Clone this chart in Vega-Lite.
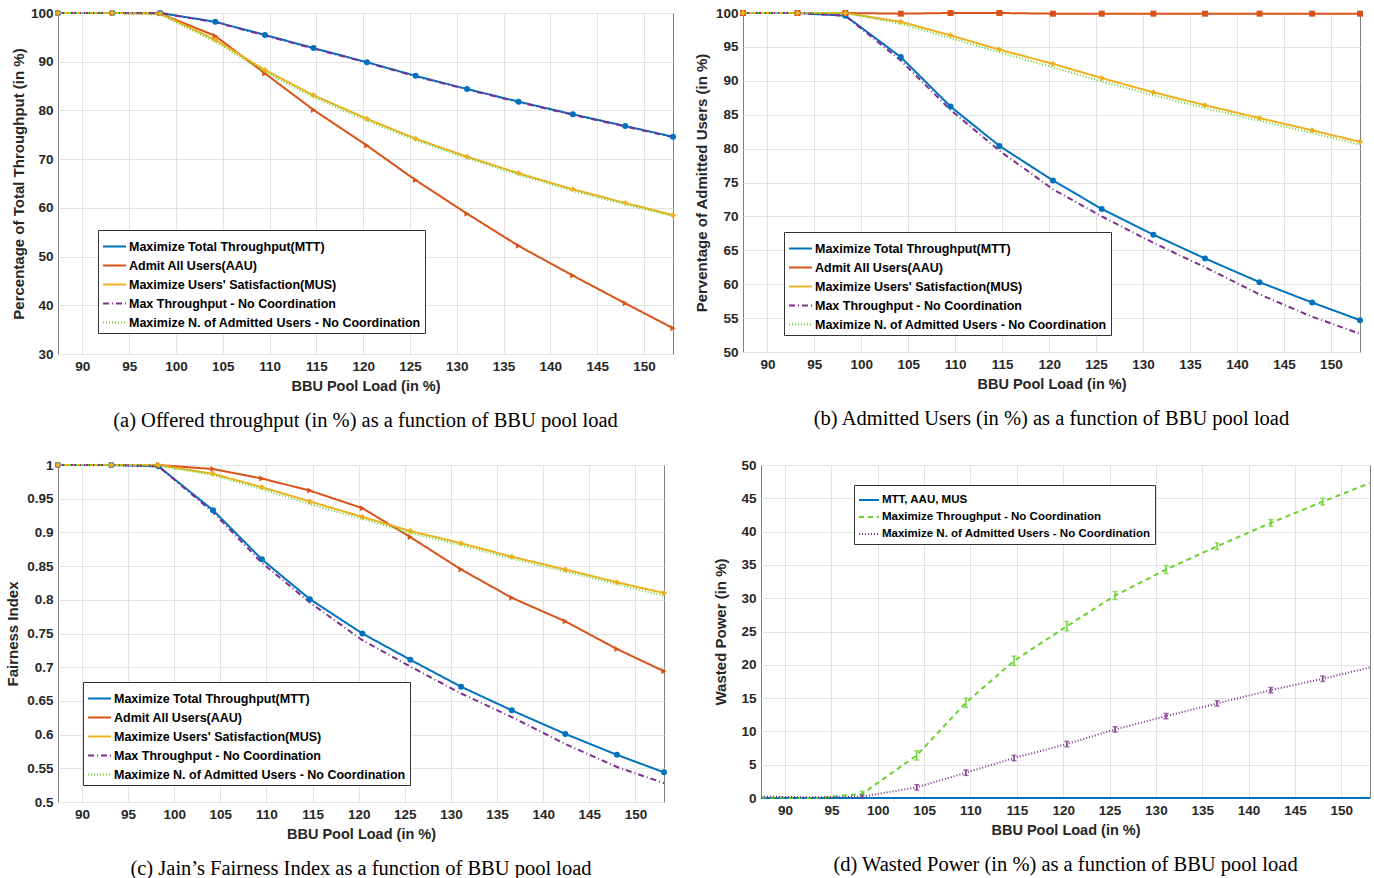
{
  "$schema": "https://vega.github.io/schema/vega-lite/v6.json",
  "background": "white",
  "padding": 5,
  "datasets": {
    "a": [
      {"x":87.4,"s":"MTT","y":100},{"x":93.2,"s":"MTT","y":100},{"x":98.3,"s":"MTT","y":100},{"x":104.2,"s":"MTT","y":98.2},{"x":109.5,"s":"MTT","y":95.5},{"x":114.7,"s":"MTT","y":92.8},{"x":120.4,"s":"MTT","y":89.9},{"x":125.6,"s":"MTT","y":87.1},{"x":131.1,"s":"MTT","y":84.4},{"x":136.6,"s":"MTT","y":81.8},{"x":142.4,"s":"MTT","y":79.2},{"x":148.0,"s":"MTT","y":76.8},{"x":153.1,"s":"MTT","y":74.6},
      {"x":87.4,"s":"AAU","y":100},{"x":93.2,"s":"AAU","y":100},{"x":98.3,"s":"AAU","y":99.9},{"x":104.2,"s":"AAU","y":95.3},{"x":109.5,"s":"AAU","y":87.6},{"x":114.7,"s":"AAU","y":80.1},{"x":120.4,"s":"AAU","y":72.8},{"x":125.6,"s":"AAU","y":65.7},{"x":131.1,"s":"AAU","y":58.8},{"x":136.6,"s":"AAU","y":52.2},{"x":142.4,"s":"AAU","y":46.1},{"x":148.0,"s":"AAU","y":40.4},{"x":153.1,"s":"AAU","y":35.3},
      {"x":87.4,"s":"MUS","y":100},{"x":93.2,"s":"MUS","y":100},{"x":98.3,"s":"MUS","y":99.9},{"x":104.2,"s":"MUS","y":94.5},{"x":109.5,"s":"MUS","y":88.3},{"x":114.7,"s":"MUS","y":83.1},{"x":120.4,"s":"MUS","y":78.3},{"x":125.6,"s":"MUS","y":74.2},{"x":131.1,"s":"MUS","y":70.5},{"x":136.6,"s":"MUS","y":67.1},{"x":142.4,"s":"MUS","y":63.8},{"x":148.0,"s":"MUS","y":61.0},{"x":153.1,"s":"MUS","y":58.5},
      {"x":87.4,"s":"MTNC","y":100},{"x":93.2,"s":"MTNC","y":100},{"x":98.3,"s":"MTNC","y":100},{"x":104.2,"s":"MTNC","y":98.1},{"x":109.5,"s":"MTNC","y":95.4},{"x":114.7,"s":"MTNC","y":92.7},{"x":120.4,"s":"MTNC","y":89.8},{"x":125.6,"s":"MTNC","y":87.0},{"x":131.1,"s":"MTNC","y":84.3},{"x":136.6,"s":"MTNC","y":81.7},{"x":142.4,"s":"MTNC","y":79.1},{"x":148.0,"s":"MTNC","y":76.7},{"x":153.1,"s":"MTNC","y":74.5},
      {"x":87.4,"s":"MANC","y":100},{"x":93.2,"s":"MANC","y":100},{"x":98.3,"s":"MANC","y":99.7},{"x":104.2,"s":"MANC","y":94.1},{"x":109.5,"s":"MANC","y":87.9},{"x":114.7,"s":"MANC","y":82.7},{"x":120.4,"s":"MANC","y":77.9},{"x":125.6,"s":"MANC","y":73.9},{"x":131.1,"s":"MANC","y":70.2},{"x":136.6,"s":"MANC","y":66.8},{"x":142.4,"s":"MANC","y":63.5},{"x":148.0,"s":"MANC","y":60.7},{"x":153.1,"s":"MANC","y":58.3}
    ],
    "b": [
      {"x":87.4,"s":"MTT","y":100},{"x":93.2,"s":"MTT","y":100},{"x":98.3,"s":"MTT","y":99.6},{"x":104.2,"s":"MTT","y":93.5},{"x":109.5,"s":"MTT","y":86.2},{"x":114.7,"s":"MTT","y":80.4},{"x":120.4,"s":"MTT","y":75.3},{"x":125.6,"s":"MTT","y":71.1},{"x":131.1,"s":"MTT","y":67.3},{"x":136.6,"s":"MTT","y":63.8},{"x":142.4,"s":"MTT","y":60.3},{"x":148.0,"s":"MTT","y":57.3},{"x":153.1,"s":"MTT","y":54.7},
      {"x":87.4,"s":"AAU","y":100},{"x":93.2,"s":"AAU","y":100},{"x":98.3,"s":"AAU","y":100},{"x":104.2,"s":"AAU","y":99.9},{"x":109.5,"s":"AAU","y":100},{"x":114.7,"s":"AAU","y":100},{"x":120.4,"s":"AAU","y":99.9},{"x":125.6,"s":"AAU","y":99.9},{"x":131.1,"s":"AAU","y":99.9},{"x":136.6,"s":"AAU","y":99.9},{"x":142.4,"s":"AAU","y":99.9},{"x":148.0,"s":"AAU","y":99.9},{"x":153.1,"s":"AAU","y":99.9},
      {"x":87.4,"s":"MUS","y":100},{"x":93.2,"s":"MUS","y":100},{"x":98.3,"s":"MUS","y":100},{"x":104.2,"s":"MUS","y":98.7},{"x":109.5,"s":"MUS","y":96.7},{"x":114.7,"s":"MUS","y":94.6},{"x":120.4,"s":"MUS","y":92.5},{"x":125.6,"s":"MUS","y":90.4},{"x":131.1,"s":"MUS","y":88.3},{"x":136.6,"s":"MUS","y":86.4},{"x":142.4,"s":"MUS","y":84.5},{"x":148.0,"s":"MUS","y":82.7},{"x":153.1,"s":"MUS","y":81.0},
      {"x":87.4,"s":"MTNC","y":100},{"x":93.2,"s":"MTNC","y":100},{"x":98.3,"s":"MTNC","y":99.6},{"x":104.2,"s":"MTNC","y":93.0},{"x":109.5,"s":"MTNC","y":85.7},{"x":114.7,"s":"MTNC","y":79.7},{"x":120.4,"s":"MTNC","y":74.0},{"x":125.6,"s":"MTNC","y":70.0},{"x":131.1,"s":"MTNC","y":66.1},{"x":136.6,"s":"MTNC","y":62.5},{"x":142.4,"s":"MTNC","y":58.5},{"x":148.0,"s":"MTNC","y":55.2},{"x":153.1,"s":"MTNC","y":52.7},
      {"x":87.4,"s":"MANC","y":100},{"x":93.2,"s":"MANC","y":100},{"x":98.3,"s":"MANC","y":100},{"x":104.2,"s":"MANC","y":98.4},{"x":109.5,"s":"MANC","y":96.3},{"x":114.7,"s":"MANC","y":94.2},{"x":120.4,"s":"MANC","y":92.0},{"x":125.6,"s":"MANC","y":89.9},{"x":131.1,"s":"MANC","y":87.9},{"x":136.6,"s":"MANC","y":86.0},{"x":142.4,"s":"MANC","y":84.1},{"x":148.0,"s":"MANC","y":82.3},{"x":153.1,"s":"MANC","y":80.6}
    ],
    "c": [
      {"x":87.4,"s":"MTT","y":1},{"x":93.2,"s":"MTT","y":1},{"x":98.3,"s":"MTT","y":0.998},{"x":104.2,"s":"MTT","y":0.933},{"x":109.5,"s":"MTT","y":0.86},{"x":114.7,"s":"MTT","y":0.801},{"x":120.4,"s":"MTT","y":0.75},{"x":125.6,"s":"MTT","y":0.711},{"x":131.1,"s":"MTT","y":0.671},{"x":136.6,"s":"MTT","y":0.636},{"x":142.4,"s":"MTT","y":0.601},{"x":148.0,"s":"MTT","y":0.57},{"x":153.1,"s":"MTT","y":0.544},
      {"x":87.4,"s":"AAU","y":1},{"x":93.2,"s":"AAU","y":1},{"x":98.3,"s":"AAU","y":1},{"x":104.2,"s":"AAU","y":0.994},{"x":109.5,"s":"AAU","y":0.98},{"x":114.7,"s":"AAU","y":0.962},{"x":120.4,"s":"AAU","y":0.936},{"x":125.6,"s":"AAU","y":0.893},{"x":131.1,"s":"AAU","y":0.845},{"x":136.6,"s":"AAU","y":0.803},{"x":142.4,"s":"AAU","y":0.768},{"x":148.0,"s":"AAU","y":0.727},{"x":153.1,"s":"AAU","y":0.694},
      {"x":87.4,"s":"MUS","y":1},{"x":93.2,"s":"MUS","y":1},{"x":98.3,"s":"MUS","y":1},{"x":104.2,"s":"MUS","y":0.987},{"x":109.5,"s":"MUS","y":0.967},{"x":114.7,"s":"MUS","y":0.946},{"x":120.4,"s":"MUS","y":0.923},{"x":125.6,"s":"MUS","y":0.902},{"x":131.1,"s":"MUS","y":0.884},{"x":136.6,"s":"MUS","y":0.864},{"x":142.4,"s":"MUS","y":0.845},{"x":148.0,"s":"MUS","y":0.826},{"x":153.1,"s":"MUS","y":0.81},
      {"x":87.4,"s":"MTNC","y":1},{"x":93.2,"s":"MTNC","y":1},{"x":98.3,"s":"MTNC","y":0.998},{"x":104.2,"s":"MTNC","y":0.93},{"x":109.5,"s":"MTNC","y":0.855},{"x":114.7,"s":"MTNC","y":0.796},{"x":120.4,"s":"MTNC","y":0.74},{"x":125.6,"s":"MTNC","y":0.701},{"x":131.1,"s":"MTNC","y":0.661},{"x":136.6,"s":"MTNC","y":0.626},{"x":142.4,"s":"MTNC","y":0.586},{"x":148.0,"s":"MTNC","y":0.552},{"x":153.1,"s":"MTNC","y":0.528},
      {"x":87.4,"s":"MANC","y":1},{"x":93.2,"s":"MANC","y":1},{"x":98.3,"s":"MANC","y":0.999},{"x":104.2,"s":"MANC","y":0.985},{"x":109.5,"s":"MANC","y":0.964},{"x":114.7,"s":"MANC","y":0.942},{"x":120.4,"s":"MANC","y":0.92},{"x":125.6,"s":"MANC","y":0.899},{"x":131.1,"s":"MANC","y":0.881},{"x":136.6,"s":"MANC","y":0.861},{"x":142.4,"s":"MANC","y":0.842},{"x":148.0,"s":"MANC","y":0.823},{"x":153.1,"s":"MANC","y":0.806}
    ],
    "d": [
      {"x":87.4,"s":"D0","y":0},{"x":93.2,"s":"D0","y":0},{"x":98.3,"s":"D0","y":0},{"x":104.2,"s":"D0","y":0},{"x":109.5,"s":"D0","y":0},{"x":114.7,"s":"D0","y":0},{"x":120.4,"s":"D0","y":0},{"x":125.6,"s":"D0","y":0},{"x":131.1,"s":"D0","y":0},{"x":136.6,"s":"D0","y":0},{"x":142.4,"s":"D0","y":0},{"x":148.0,"s":"D0","y":0},{"x":153.1,"s":"D0","y":0},
      {"x":87.4,"s":"D1","y":0.1},{"x":93.2,"s":"D1","y":0},{"x":98.3,"s":"D1","y":0.6},{"x":104.2,"s":"D1","y":6.4},{"x":109.5,"s":"D1","y":14.3},{"x":114.7,"s":"D1","y":20.6},{"x":120.4,"s":"D1","y":25.8},{"x":125.6,"s":"D1","y":30.4},{"x":131.1,"s":"D1","y":34.3},{"x":136.6,"s":"D1","y":37.8},{"x":142.4,"s":"D1","y":41.3},{"x":148.0,"s":"D1","y":44.5},{"x":153.1,"s":"D1","y":47.3},
      {"x":87.4,"s":"D2","y":0.2},{"x":93.2,"s":"D2","y":0.1},{"x":98.3,"s":"D2","y":0.2},{"x":104.2,"s":"D2","y":1.6},{"x":109.5,"s":"D2","y":3.8},{"x":114.7,"s":"D2","y":6.0},{"x":120.4,"s":"D2","y":8.1},{"x":125.6,"s":"D2","y":10.3},{"x":131.1,"s":"D2","y":12.3},{"x":136.6,"s":"D2","y":14.2},{"x":142.4,"s":"D2","y":16.2},{"x":148.0,"s":"D2","y":17.9},{"x":153.1,"s":"D2","y":19.6}
    ],
    "de": [
      {"x":98.3,"s":"D1","lo":0.2,"hi":1.0},{"x":104.2,"s":"D1","lo":5.7,"hi":7.1},{"x":109.5,"s":"D1","lo":13.6,"hi":15.0},{"x":114.7,"s":"D1","lo":19.9,"hi":21.3},{"x":120.4,"s":"D1","lo":25.1,"hi":26.5},{"x":125.6,"s":"D1","lo":29.8,"hi":31.0},{"x":131.1,"s":"D1","lo":33.7,"hi":34.9},{"x":136.6,"s":"D1","lo":37.3,"hi":38.3},{"x":142.4,"s":"D1","lo":40.8,"hi":41.8},{"x":148.0,"s":"D1","lo":44.0,"hi":45.0},
      {"x":98.3,"s":"D2","lo":0.0,"hi":0.5},{"x":104.2,"s":"D2","lo":1.2,"hi":2.0},{"x":109.5,"s":"D2","lo":3.4,"hi":4.2},{"x":114.7,"s":"D2","lo":5.6,"hi":6.4},{"x":120.4,"s":"D2","lo":7.7,"hi":8.5},{"x":125.6,"s":"D2","lo":9.9,"hi":10.7},{"x":131.1,"s":"D2","lo":11.9,"hi":12.7},{"x":136.6,"s":"D2","lo":13.8,"hi":14.6},{"x":142.4,"s":"D2","lo":15.8,"hi":16.6},{"x":148.0,"s":"D2","lo":17.5,"hi":18.3}
    ]
  },
  "config": {
    "view": {"stroke": "#7f7f7f", "strokeWidth": 1},
    "axis": {
      "domain": false,
      "ticks": false,
      "grid": true,
      "gridColor": "#e3e3e3",
      "gridWidth": 1,
      "labelFont": "Liberation Sans",
      "labelFontSize": 13.5,
      "labelFontWeight": "bold",
      "labelColor": "#262626",
      "labelPadding": 5,
      "titleFont": "Liberation Sans",
      "titleFontSize": 15,
      "titleFontWeight": "bold",
      "titleColor": "#262626"
    },
    "axisX": {"titleFontSize": 14.5, "titlePadding": 7},
    "legend": {
      "orient": "none",
      "strokeColor": "#333333",
      "fillColor": "white",
      "padding": 4,
      "cornerRadius": 0,
      "labelFont": "Liberation Sans",
      "labelFontSize": 12.5,
      "labelFontWeight": "bold",
      "labelColor": "#000000",
      "labelOffset": 2,
      "labelLimit": 0,
      "symbolType": "stroke",
      "symbolSize": 529,
      "symbolStrokeWidth": 2,
      "rowPadding": 0,
      "titleFontSize": 0
    },
    "title": {
      "orient": "bottom",
      "font": "Liberation Serif",
      "fontSize": 20.5,
      "fontWeight": "normal",
      "color": "#000000",
      "offset": 18,
      "anchor": "middle"
    },
    "line": {"strokeWidth": 2},
    "point": {"filled": true, "size": 36, "opacity": 1}
  },
  "resolve": {
    "scale": {"x": "independent", "y": "independent", "color": "independent", "strokeDash": "independent", "shape": "independent"},
    "legend": {"color": "independent", "strokeDash": "independent", "shape": "independent"}
  },
  "columns": 1,
  "align": "none",
  "spacing": 25,
  "concat": [
    {
      "spacing": 15,
      "resolve": {
        "scale": {"x": "independent", "y": "independent", "color": "independent", "strokeDash": "independent", "shape": "independent"},
        "legend": {"color": "independent", "strokeDash": "independent", "shape": "independent"}
      },
      "hconcat": [
        {
          "width": 615, "height": 341,
          "data": {"name": "a"},
          "title": "(a) Offered throughput (in %) as a function of BBU pool load",
          "encoding": {
            "x": {"field": "x", "type": "quantitative", "scale": {"domain": [87.4, 153.1], "nice": false, "zero": false}, "axis": {"values": [90,95,100,105,110,115,120,125,130,135,140,145,150], "title": "BBU Pool Load (in %)"}},
            "y": {"field": "y", "type": "quantitative", "scale": {"domain": [30, 100], "nice": false, "zero": false}, "axis": {"values": [30,40,50,60,70,80,90,100], "title": "Percentage of Total Throughput (in %)", "titlePadding": 4}}
          },
          "layer": [
            {
              "mark": {"type": "line", "strokeWidth": 2},
              "encoding": {
                "color": {"field": "s", "type": "nominal", "scale": {"domain": ["MTT","AAU","MUS","MTNC","MANC"], "range": ["#0072BD","#D95319","#EDB120","#7E2F8E","#6ad12f"]},
                  "legend": {"title": null, "legendX": 40, "legendY": 217, "labelExpr": "datum.label == 'MTT' ? 'Maximize Total Throughput(MTT)' : datum.label == 'AAU' ? 'Admit All Users(AAU)' : datum.label == 'MUS' ? \"Maximize Users' Satisfaction(MUS)\" : datum.label == 'MTNC' ? 'Max Throughput - No Coordination' : 'Maximize N. of Admitted Users - No Coordination'"}},
                "strokeDash": {"field": "s", "type": "nominal", "scale": {"domain": ["MTT","AAU","MUS","MTNC","MANC"], "range": [[1,0],[1,0],[1,0],[6,3,1,3],[1,2]]},
                  "legend": {"title": null, "legendX": 40, "legendY": 217, "labelExpr": "datum.label == 'MTT' ? 'Maximize Total Throughput(MTT)' : datum.label == 'AAU' ? 'Admit All Users(AAU)' : datum.label == 'MUS' ? \"Maximize Users' Satisfaction(MUS)\" : datum.label == 'MTNC' ? 'Max Throughput - No Coordination' : 'Maximize N. of Admitted Users - No Coordination'"}}
              }
            },
            {
              "transform": [{"filter": {"field": "s", "oneOf": ["MTT","AAU","MUS"]}}],
              "mark": {"type": "point", "filled": true, "size": 36},
              "encoding": {
                "color": {"field": "s", "type": "nominal", "scale": {"domain": ["MTT","AAU","MUS","MTNC","MANC"], "range": ["#0072BD","#D95319","#EDB120","#7E2F8E","#6ad12f"]}, "legend": null},
                "shape": {"field": "s", "type": "nominal", "scale": {"domain": ["MTT","AAU","MUS"], "range": ["circle","triangle-right","diamond"]}, "legend": null}
              }
            }
          ]
        },
        {
          "width": 617, "height": 339,
          "data": {"name": "b"},
          "title": "(b) Admitted Users (in %) as a function of BBU pool load",
          "encoding": {
            "x": {"field": "x", "type": "quantitative", "scale": {"domain": [87.4, 153.1], "nice": false, "zero": false}, "axis": {"values": [90,95,100,105,110,115,120,125,130,135,140,145,150], "title": "BBU Pool Load (in %)"}},
            "y": {"field": "y", "type": "quantitative", "scale": {"domain": [50, 100], "nice": false, "zero": false}, "axis": {"values": [50,55,60,65,70,75,80,85,90,95,100], "title": "Perventage of Admitted Users (in %)", "titlePadding": 6}}
          },
          "layer": [
            {
              "mark": {"type": "line", "strokeWidth": 2},
              "encoding": {
                "color": {"field": "s", "type": "nominal", "scale": {"domain": ["MTT","AAU","MUS","MTNC","MANC"], "range": ["#0072BD","#D95319","#EDB120","#7E2F8E","#6ad12f"]},
                  "legend": {"title": null, "legendX": 41, "legendY": 219, "labelExpr": "datum.label == 'MTT' ? 'Maximize Total Throughput(MTT)' : datum.label == 'AAU' ? 'Admit All Users(AAU)' : datum.label == 'MUS' ? \"Maximize Users' Satisfaction(MUS)\" : datum.label == 'MTNC' ? 'Max Throughput - No Coordination' : 'Maximize N. of Admitted Users - No Coordination'"}},
                "strokeDash": {"field": "s", "type": "nominal", "scale": {"domain": ["MTT","AAU","MUS","MTNC","MANC"], "range": [[1,0],[1,0],[1,0],[6,3,1,3],[1,2]]},
                  "legend": {"title": null, "legendX": 41, "legendY": 219, "labelExpr": "datum.label == 'MTT' ? 'Maximize Total Throughput(MTT)' : datum.label == 'AAU' ? 'Admit All Users(AAU)' : datum.label == 'MUS' ? \"Maximize Users' Satisfaction(MUS)\" : datum.label == 'MTNC' ? 'Max Throughput - No Coordination' : 'Maximize N. of Admitted Users - No Coordination'"}}
              }
            },
            {
              "transform": [{"filter": {"field": "s", "oneOf": ["MTT","AAU","MUS"]}}],
              "mark": {"type": "point", "filled": true, "size": 36},
              "encoding": {
                "color": {"field": "s", "type": "nominal", "scale": {"domain": ["MTT","AAU","MUS","MTNC","MANC"], "range": ["#0072BD","#D95319","#EDB120","#7E2F8E","#6ad12f"]}, "legend": null},
                "shape": {"field": "s", "type": "nominal", "scale": {"domain": ["MTT","AAU","MUS"], "range": ["circle","square","diamond"]}, "legend": null}
              }
            }
          ]
        }
      ]
    },
    {
      "spacing": 44,
      "resolve": {
        "scale": {"x": "independent", "y": "independent", "color": "independent", "strokeDash": "independent", "shape": "independent"},
        "legend": {"color": "independent", "strokeDash": "independent", "shape": "independent"}
      },
      "hconcat": [
        {
          "width": 606, "height": 337,
          "data": {"name": "c"},
          "title": "(c) Jain’s Fairness Index as a function of BBU pool load",
          "encoding": {
            "x": {"field": "x", "type": "quantitative", "scale": {"domain": [87.4, 153.1], "nice": false, "zero": false}, "axis": {"values": [90,95,100,105,110,115,120,125,130,135,140,145,150], "title": "BBU Pool Load (in %)"}},
            "y": {"field": "y", "type": "quantitative", "scale": {"domain": [0.5, 1], "nice": false, "zero": false}, "axis": {"values": [0.5,0.55,0.6,0.65,0.7,0.75,0.8,0.85,0.9,0.95,1], "format": "~g", "title": "Fairness Index", "titlePadding": 6}}
          },
          "layer": [
            {
              "mark": {"type": "line", "strokeWidth": 2},
              "encoding": {
                "color": {"field": "s", "type": "nominal", "scale": {"domain": ["MTT","AAU","MUS","MTNC","MANC"], "range": ["#0072BD","#D95319","#EDB120","#7E2F8E","#6ad12f"]},
                  "legend": {"title": null, "legendX": 25, "legendY": 217, "labelExpr": "datum.label == 'MTT' ? 'Maximize Total Throughput(MTT)' : datum.label == 'AAU' ? 'Admit All Users(AAU)' : datum.label == 'MUS' ? \"Maximize Users' Satisfaction(MUS)\" : datum.label == 'MTNC' ? 'Max Throughput - No Coordination' : 'Maximize N. of Admitted Users - No Coordination'"}},
                "strokeDash": {"field": "s", "type": "nominal", "scale": {"domain": ["MTT","AAU","MUS","MTNC","MANC"], "range": [[1,0],[1,0],[1,0],[6,3,1,3],[1,2]]},
                  "legend": {"title": null, "legendX": 25, "legendY": 217, "labelExpr": "datum.label == 'MTT' ? 'Maximize Total Throughput(MTT)' : datum.label == 'AAU' ? 'Admit All Users(AAU)' : datum.label == 'MUS' ? \"Maximize Users' Satisfaction(MUS)\" : datum.label == 'MTNC' ? 'Max Throughput - No Coordination' : 'Maximize N. of Admitted Users - No Coordination'"}}
              }
            },
            {
              "transform": [{"filter": {"field": "s", "oneOf": ["MTT","AAU","MUS"]}}],
              "mark": {"type": "point", "filled": true, "size": 36},
              "encoding": {
                "color": {"field": "s", "type": "nominal", "scale": {"domain": ["MTT","AAU","MUS","MTNC","MANC"], "range": ["#0072BD","#D95319","#EDB120","#7E2F8E","#6ad12f"]}, "legend": null},
                "shape": {"field": "s", "type": "nominal", "scale": {"domain": ["MTT","AAU","MUS"], "range": ["circle","triangle-right","diamond"]}, "legend": null}
              }
            }
          ]
        },
        {
          "width": 609, "height": 333,
          "title": "(d) Wasted Power (in %) as a function of BBU pool load",
          "encoding": {
            "x": {"field": "x", "type": "quantitative", "scale": {"domain": [87.4, 153.1], "nice": false, "zero": false}, "axis": {"values": [90,95,100,105,110,115,120,125,130,135,140,145,150], "title": "BBU Pool Load (in %)"}}
          },
          "layer": [
            {
              "data": {"name": "d"},
              "mark": {"type": "line", "strokeWidth": 2},
              "encoding": {
                "y": {"field": "y", "type": "quantitative", "scale": {"domain": [0, 50], "nice": false, "zero": false}, "axis": {"values": [0,5,10,15,20,25,30,35,40,45,50], "title": "Wasted Power (in %)", "titlePadding": 12}},
                "color": {"field": "s", "type": "nominal", "scale": {"domain": ["D0","D1","D2"], "range": ["#0072BD","#6ad12f","#7E2F8E"]},
                  "legend": {"title": null, "legendX": 93, "legendY": 20, "labelFontSize": 11.5, "symbolSize": 400, "labelExpr": "datum.label == 'D0' ? 'MTT, AAU, MUS' : datum.label == 'D1' ? 'Maximize Throughput - No Coordination' : 'Maximize N. of Admitted Users - No Coordination'"}},
                "strokeDash": {"field": "s", "type": "nominal", "scale": {"domain": ["D0","D1","D2"], "range": [[1,0],[5,4],[1,2]]},
                  "legend": {"title": null, "legendX": 93, "legendY": 20, "labelFontSize": 11.5, "symbolSize": 400, "labelExpr": "datum.label == 'D0' ? 'MTT, AAU, MUS' : datum.label == 'D1' ? 'Maximize Throughput - No Coordination' : 'Maximize N. of Admitted Users - No Coordination'"}}
              }
            },
            {
              "data": {"name": "de"},
              "mark": {"type": "errorbar", "ticks": {"size": 5}, "thickness": 1.5},
              "encoding": {
                "y": {"field": "lo", "type": "quantitative", "scale": {"domain": [0, 50], "nice": false, "zero": false}, "axis": {"values": [0,5,10,15,20,25,30,35,40,45,50], "title": "Wasted Power (in %)", "titlePadding": 12}},
                "y2": {"field": "hi"},
                "color": {"field": "s", "type": "nominal", "scale": {"domain": ["D0","D1","D2"], "range": ["#0072BD","#6ad12f","#7E2F8E"]}, "legend": null}
              }
            }
          ]
        }
      ]
    }
  ]
}
